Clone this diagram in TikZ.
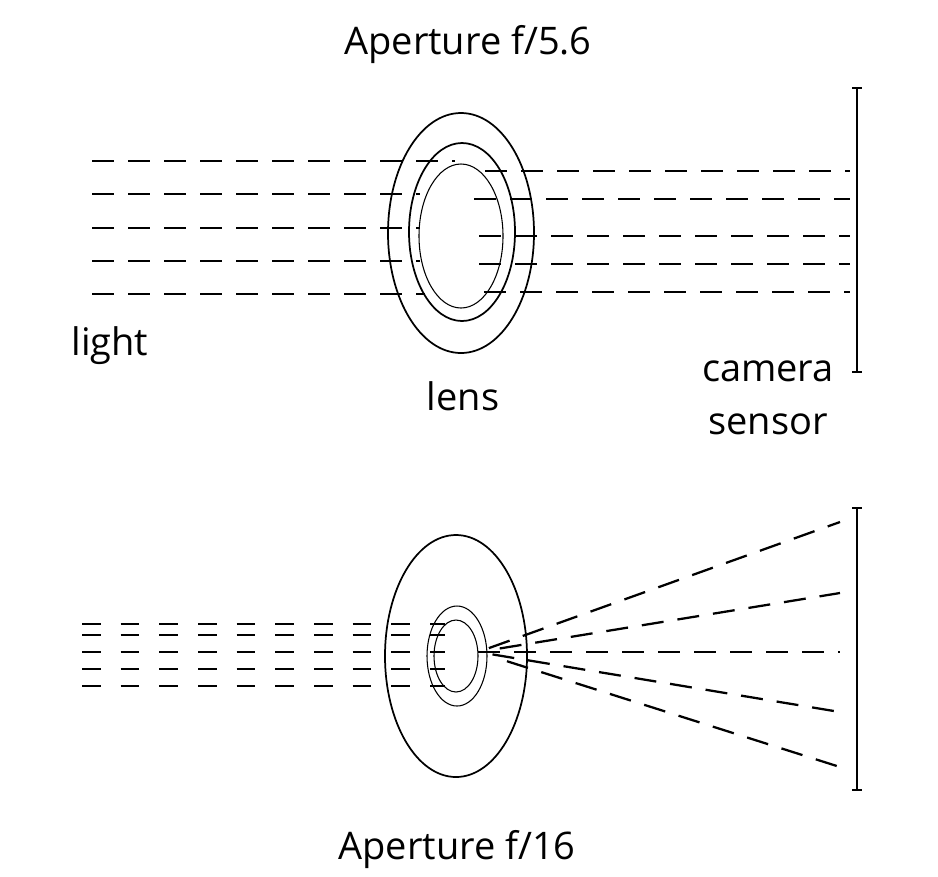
\documentclass[tikz,border=0pt]{standalone}
\usepackage{fontspec}
\usetikzlibrary{calc}
\setmainfont{Open Sans}
\begin{document}
\begin{tikzpicture}[x=0.75pt,y=-0.75pt,
  ray/.style={line width=1.7pt,dash pattern=on 16.5pt off 10.5pt},
  rayb/.style={line width=1.7pt,dash pattern=on 14pt off 15pt},
  lens/.style={line width=1.3pt},
  thin/.style={line width=0.8pt},
  lbl/.style={font=\fontsize{28.5}{40}\selectfont,align=center},
  sens/.style={line width=1.5pt}]
\useasboundingbox (0,0) rectangle (938,876);
% top
\node[lbl] (t1) at (468,45) {Aperture f/5.6};
\draw[lens] (461,233) ellipse [x radius=73,y radius=120];
\draw[lens] (462,232) ellipse [x radius=53,y radius=89];
\draw[thin] (461,236) ellipse [x radius=42,y radius=72];
\foreach \y/\e in {161/455,194/420,228/420,261/420,294/425}
  \draw[ray] (92,\y) -- (\e,\y);
\foreach \y/\s in {171/485,199/474,236/479,264/479,292/484}
  \draw[ray] (\s,\y) -- (850,\y);
\coordinate (s1a) at (857,88); \coordinate (s1b) at (857,372);
\draw[sens] (s1a) -- (s1b);
\draw[sens] (852,88) -- (862,88); \draw[sens] (852,372) -- (862,372);
\node[lbl] (l1) at (110,346) {light};
\node[lbl] (l2) at (463,396) {lens};
\node[lbl] (l3) at (768,398) {camera\\sensor};
% bottom
\draw[lens] (456,656) ellipse [x radius=71,y radius=121];
\draw[thin] (457,656) ellipse [x radius=30,y radius=50];
\draw[thin] (456,656) ellipse [x radius=22,y radius=36];
\foreach \y in {624,635,652,669,686}
  \draw[rayb] (82,\y) -- (445,\y);
\coordinate (f) at (478,652);
\foreach \y/\t in {522/0.03,593/0.06,652/0.0,712/0.04,767/0.08}
  \draw[ray] ($(f)!\t!(840,\y)$) -- (840,\y);
\draw[sens] (857,508) -- (857,790);
\draw[sens] (852,508) -- (862,508); \draw[sens] (852,790) -- (862,790);
\node[lbl] (b1) at (457,850) {Aperture f/16};
\end{tikzpicture}
\end{document}
